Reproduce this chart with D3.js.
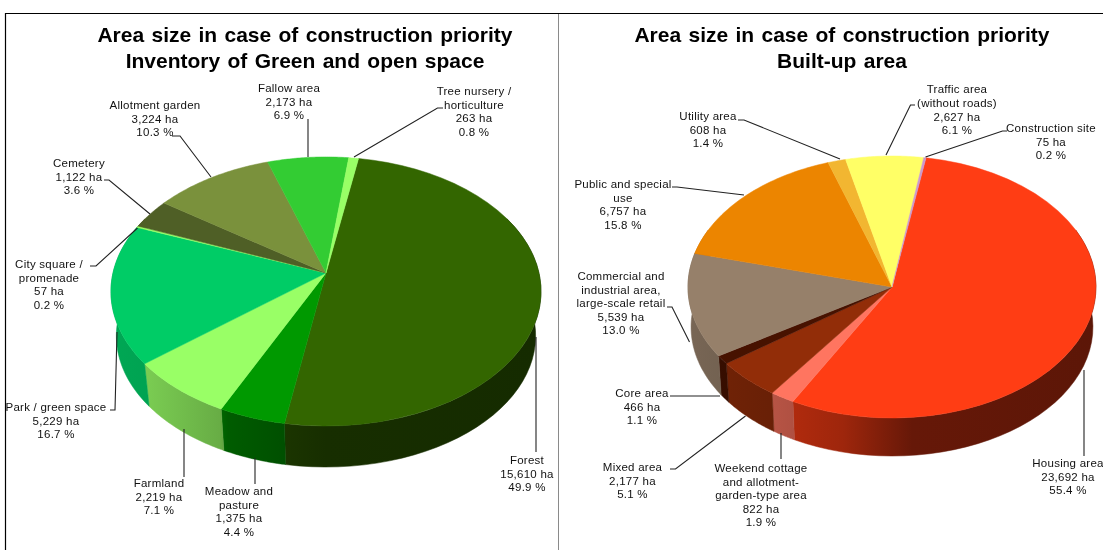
<!DOCTYPE html>
<html>
<head>
<meta charset="utf-8">
<title>Area size in case of construction priority</title>
<script src="https://cdn.jsdelivr.net/npm/d3@7"></script>
<style>
  html, body { margin: 0; padding: 0; background: #fff; overflow: hidden; }
  svg { display: block; filter: blur(0.4px); }
  text { font-family: "Liberation Sans", Arial, sans-serif; }
</style>
</head>
<body>
<svg id="chart" width="1103" height="550"></svg>
<script>
// left pie
const greenNames = ['Forest', 'Meadow and\npasture', 'Farmland', 'Park / green space', 'City square /\npromenade', 'Cemetery', 'Allotment garden', 'Fallow area', 'Tree nursery /\nhorticulture'];
const greenHa = [15610, 1375, 2219, 5229, 57, 1122, 3224, 2173, 263];
const greenPct = ['49.9', '4.4', '7.1', '16.7', '0.2', '3.6', '10.3', '6.9', '0.8'];
const greenColors = ['#336600', '#009900', '#99ff66', '#00cc66', '#99ff66', '#4f5f26', '#7a913c', '#33cc33', '#99ff66'];

// right pie
const builtNames = ['Housing area', 'Weekend cottage\nand allotment-\ngarden-type area', 'Mixed area', 'Core area', 'Commercial and\nindustrial area,\nlarge-scale retail', 'Public and special\nuse', 'Utility area', 'Traffic area\n(without roads)', 'Construction site'];
const builtHa = [23692, 822, 2177, 466, 5539, 6757, 608, 2627, 75];
const builtPct = ['55.4', '1.9', '5.1', '1.1', '13.0', '15.8', '1.4', '6.1', '0.2'];
const builtColors = ['#ff3d14', '#ff7560', '#922d08', '#471200', '#96806a', '#ec8500', '#f2b631', '#ffff66', '#cc99cc'];

const titleGreen = ['Area size in case of construction priority', 'Inventory of Green and open space'];
const titleBuilt = ['Area size in case of construction priority', 'Built-up area'];

// label centre, first line y, then the leader bend points going away from the pie
const greenLabels = [
  { x: 527, y: 460, bend: [[536, 452]], end: [536, 337] },
  { x: 239, y: 491, bend: [[255, 484]], end: [255, 458] },
  { x: 159, y: 483, bend: [[184, 477]], end: [184, 429] },
  { x: 56, y: 407, bend: [[115, 410], [110, 410]], end: [117, 332] },
  { x: 49, y: 264, bend: [[96, 266], [90, 266]], end: [137.5, 228] },
  { x: 79, y: 163, bend: [[109, 180], [104, 180]], end: [150, 214] },
  { x: 155, y: 105, bend: [[180, 136], [172, 136]], end: [211, 177] },
  { x: 289, y: 88, bend: [[308, 119]], end: [308, 157] },
  { x: 474, y: 91, bend: [[437.5, 108], [443, 108]], end: [354, 157] }
];
const builtLabels = [
  { x: 1068, y: 463, bend: [[1084, 456]], end: [1084, 370] },
  { x: 761, y: 468, bend: [[781, 459]], end: [781, 433] },
  { x: 632.5, y: 467, bend: [[675.5, 469], [670, 469]], end: [745.5, 416] },
  { x: 642, y: 393, bend: [[670, 396]], end: [720, 396] },
  { x: 621, y: 276, bend: [[672, 307], [667, 307]], end: [689.5, 342] },
  { x: 623, y: 184, bend: [[677, 187], [672, 187]], end: [744, 195] },
  { x: 708, y: 116, bend: [[744, 120], [738, 120]], end: [840, 159] },
  { x: 957, y: 89.5, bend: [[910.5, 105], [915, 105]], end: [886, 155] },
  { x: 1051, y: 128, bend: [[1002.5, 131], [1007, 131]], end: [925.5, 157] }
];

const svg = d3.select('#chart');
const defs = svg.append('defs');
const formatHa = d3.format(',');

// frame
svg.append('path').attr('d', 'M5.5,550 V13.5 H1103').attr('fill', 'none').attr('stroke', '#000').attr('stroke-width', 1.2);
svg.append('line').attr('x1', 558.5).attr('x2', 558.5).attr('y1', 14).attr('y2', 550).attr('stroke', '#8a8a8a');

const drawPie = (id, pie, names, ha, pct, colors, labels, title) => {
  const total = d3.sum(ha);
  const angle = d3.scaleLinear().domain([0, total]).range([pie.start, pie.start + 2 * Math.PI]);

  // perspective view of a circle: nearer points get spread out
  const project = (a, ring) => {
    const w = 1 + pie.k * Math.cos(a);
    return [
      ring.cx + ring.a * Math.sin(a) / w,
      ring.y0 - ring.b * Math.cos(a) / w
    ];
  };
  const topRing = { cx: pie.cx, y0: pie.y0, a: pie.a, b: pie.b };
  const lowRing = { cx: pie.cx, y0: pie.y0 + pie.depth, a: pie.a * pie.shrink, b: pie.b * pie.shrink };
  // keep the lowest edge where the reference has it
  lowRing.y0 = pie.y0 + pie.b / (1 - pie.k) + pie.depth - lowRing.b / (1 - pie.k);

  let running = 0;
  const slices = ha.map((v, i) => {
    const s = { i, a0: angle(running), a1: angle(running + v) };
    running += v;
    return s;
  });

  const arcPoints = (a0, a1) => d3.range(0, 41).map(n => a0 + (a1 - a0) * n / 40);
  const g = svg.append('g').attr('id', id);

  // rim, only the part that faces the viewer
  const front0 = Math.PI / 2 - 0.45;
  const front1 = 3 * Math.PI / 2 + 0.45;
  slices.forEach(s => {
    const from = Math.max(s.a0, front0);
    const to = Math.min(s.a1, front1);
    if (to <= from) return;
    const pts = arcPoints(from, to);
    const outline = pts.map(a => project(a, topRing)).concat(pts.slice().reverse().map(a => project(a, lowRing)));
    const base = d3.color(colors[s.i]);
    const gradId = `${id}-rim-${s.i}`;
    const grad = defs.append('linearGradient').attr('id', gradId)
      .attr('gradientUnits', 'userSpaceOnUse')
      .attr('x1', pie.cx - pie.a).attr('x2', pie.cx + pie.a).attr('y1', 0).attr('y2', 0);
    pie.shade.forEach(([pos, factor]) => {
      grad.append('stop').attr('offset', pos)
        .attr('stop-color', d3.rgb(base.r * factor, base.g * factor, base.b * factor));
    });
    g.append('path')
      .attr('d', d3.line()(outline) + 'Z')
      .attr('fill', `url(#${gradId})`)
      .attr('stroke', `url(#${gradId})`)
      .attr('stroke-width', 0.5);
  });

  // top face
  const apex = [pie.cx, pie.y0];
  slices.forEach(s => {
    const pts = arcPoints(s.a0, s.a1).map(a => project(a, topRing));
    g.append('path')
      .attr('d', d3.line()([apex].concat(pts)) + 'Z')
      .attr('fill', colors[s.i])
      .attr('stroke', colors[s.i])
      .attr('stroke-width', 0.5);
  });

  // leaders and labels
  labels.forEach((l, i) => {
    g.append('path')
      .attr('d', d3.line()([l.end].concat(l.bend)))
      .attr('fill', 'none')
      .attr('stroke', '#222')
      .attr('stroke-width', 1.1);
    const lines = names[i].split('\n').concat([`${formatHa(ha[i])} ha`, `${pct[i]} %`]);
    const t = g.append('text')
      .attr('text-anchor', 'middle')
      .attr('font-size', 11.5)
      .attr('letter-spacing', 0.25)
      .attr('fill', '#111');
    lines.forEach((line, n) => {
      t.append('tspan')
        .attr('x', l.x)
        .attr('y', l.y + n * 13.6 + 3.9)
        .text(line);
    });
  });

  const head = g.append('text')
    .attr('text-anchor', 'middle')
    .attr('font-size', 21)
    .attr('word-spacing', 1.5)
    .attr('font-weight', 'bold')
    .attr('fill', '#000');
  title.forEach((line, n) => {
    head.append('tspan').attr('x', pie.titleX).attr('y', 42 + n * 26).text(line);
  });
};

drawPie('green', {
  cx: 326, y0: 273, a: 213, b: 132, k: 0.1375, depth: 41, shrink: 0.975,
  start: 10 * Math.PI / 180, titleX: 305,
  shade: [[0, 0.82], [0.08, 0.8], [0.25, 0.68], [0.27, 0.6], [0.4, 0.52], [0.5, 0.45], [1, 0.42]]
}, greenNames, greenHa, greenPct, greenColors, greenLabels, titleGreen);

drawPie('built', {
  cx: 892, y0: 287, a: 204, b: 131, k: 0, depth: 38, shrink: 0.985,
  start: 9.6 * Math.PI / 180, titleX: 842,
  shade: [[0, 0.8], [0.2, 0.72], [0.38, 0.62], [0.55, 0.4], [1, 0.36]]
}, builtNames, builtHa, builtPct, builtColors, builtLabels, titleBuilt);
</script>
</body>
</html>
